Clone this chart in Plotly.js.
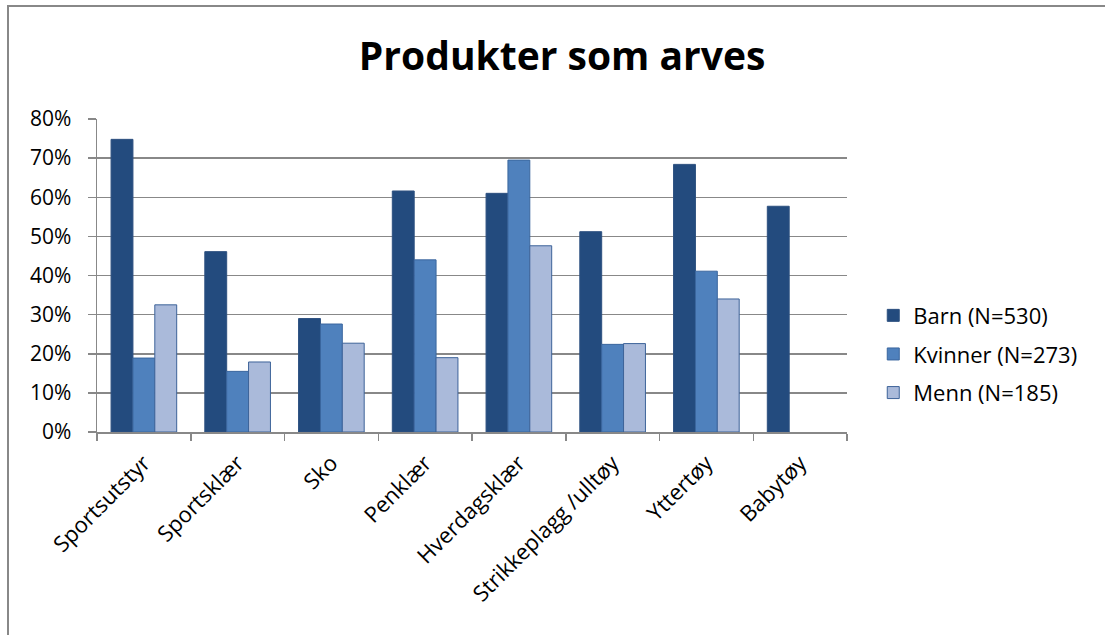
<!DOCTYPE html>
<html>
<head>
<meta charset="utf-8">
<script src="https://cdn.plot.ly/plotly-3.0.1.min.js"></script>
<style>
html,body{margin:0;padding:0;background:#fff;overflow:hidden;}
#wrap{position:relative;width:1105px;height:635px;overflow:hidden;}
#chart{width:1105px;height:635px;}
#frame{position:absolute;left:7px;top:5px;width:1200px;height:700px;border-top:2px solid #888;border-left:2px solid #888;pointer-events:none;}
</style>
</head>
<body>
<div id="wrap">
<div id="chart"></div>
<div id="frame"></div>
</div>
<script>
const categories = ["Sportsutstyr","Sportsklær","Sko","Penklær","Hverdagsklær","Strikkeplagg /ulltøy","Yttertøy","Babytøy"];
const seriesNames = ["Barn (N=530)","Kvinner (N=273)","Menn (N=185)"];
const barn    = [0.748, 0.461, 0.290, 0.616, 0.610, 0.512, 0.684, 0.577];
const kvinner = [0.189, 0.155, 0.276, 0.440, 0.695, 0.224, 0.411, null];
const menn    = [0.325, 0.179, 0.227, 0.190, 0.476, 0.226, 0.340, null];
const yTickVals = [0,0.1,0.2,0.3,0.4,0.5,0.6,0.7,0.8];
const yTickText = ["0%","10%","20%","30%","40%","50%","60%","70%","80%"];

const colors = ["#234B7E","#4F81BD","#AABADA"];
const lineColors = ["#2E5180","#3A669E","#3D6399"];
const values = [barn, kvinner, menn];

const traces = values.map((v,i)=>({
  type:"bar",
  x:categories,
  y:v,
  name:seriesNames[i],
  legendgroup:"g"+i,
  marker:{color:colors[i], line:{color:lineColors[i], width:1}},
  hoverinfo:"x+y+name"
}));

const layout = {
  width:1105, height:635,
  paper_bgcolor:"#fff", plot_bgcolor:"#fff",
  font:{family:"Open Sans, Liberation Sans, sans-serif", color:"#000", size:20},
  title:{text:"<b>Produkter som arves</b>", font:{size:39, family:"Open Sans, sans-serif", color:"#000"}, x:0.5087, xanchor:"center", y:0.912, yanchor:"middle"},
  margin:{l:97, r:258, t:119, b:203, pad:0},
  barmode:"group",
  bargap:0.3,
  bargroupgap:0,
  xaxis:{
    type:"category",
    tickangle:-45,
    tickson:"boundaries",
    ticks:"outside", ticklen:7, tickcolor:"#888", tickwidth:1.5,
    showline:true, linecolor:"#888", linewidth:1.5,
    showgrid:false,
    tickfont:{size:22, family:"Open Sans, sans-serif"},
    ticklabelstandoff:8
  },
  yaxis:{
    range:[0,0.8],
    tickvals:yTickVals, ticktext:yTickText,
    ticks:"outside", ticklen:8, tickcolor:"#888", tickwidth:1.5,
    showline:true, linecolor:"#888", linewidth:1.5,
    showgrid:true, gridcolor:"#888", gridwidth:1.5,
    zeroline:false,
    tickfont:{size:21, family:"Open Sans, sans-serif"},
    ticklabelstandoff:12
  },
  legend:{
    x:1.035, xanchor:"left", y:0.249, yanchor:"middle",
    font:{size:22, family:"Open Sans, sans-serif"},
    tracegroupgap:7,
    itemwidth:30,
    bgcolor:"rgba(0,0,0,0)"
  },
  showlegend:true
};

Plotly.newPlot("chart", traces, layout, {displayModeBar:false, staticPlot:true});
</script>
</body>
</html>
